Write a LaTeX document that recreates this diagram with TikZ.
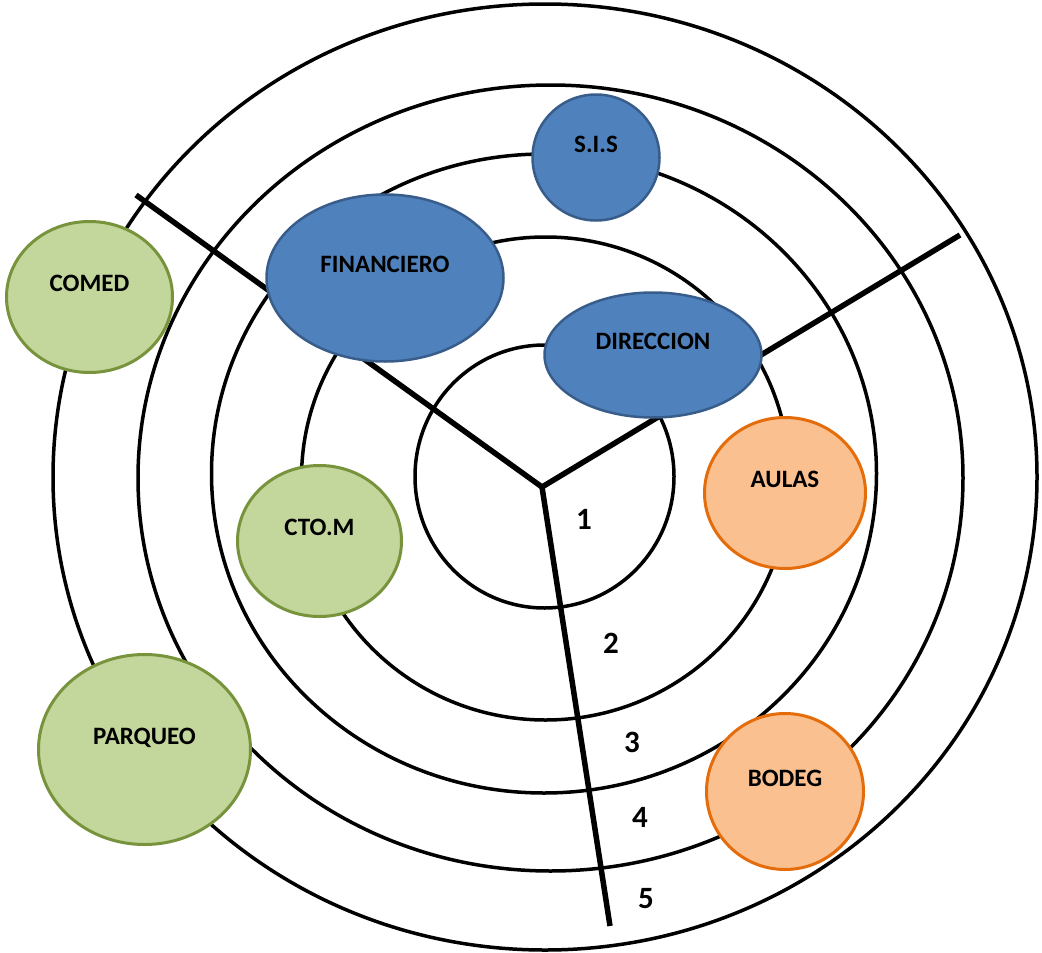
\documentclass[tikz,border=0pt]{standalone}
\usepackage{fontspec}
\setmainfont{Carlito}
\usetikzlibrary{shapes.geometric}
\definecolor{blueFill}{HTML}{4F81BD}
\definecolor{blueLine}{HTML}{385D8A}
\definecolor{greenFill}{HTML}{C3D69B}
\definecolor{greenLine}{HTML}{77933C}
\definecolor{orangeFill}{HTML}{FAC090}
\definecolor{orangeLine}{HTML}{E46C0A}
\begin{document}
\begin{tikzpicture}[x=1pt,y=-1pt,
  area/.style 2 args={ellipse, inner sep=0pt, outer sep=0pt,
    minimum width=#1, minimum height=#2},
  ring/.style={draw=black, line width=3.5pt},
  spoke/.style={draw=black, line width=5.5pt},
  bluearea/.style={fill=blueFill, draw=blueLine, line width=2.5pt},
  greenarea/.style={fill=greenFill, draw=greenLine, line width=3pt},
  orangearea/.style={fill=orangeFill, draw=orangeLine, line width=3pt},
  lbl/.style={font=\fontsize{25}{28}\selectfont\bfseries, anchor=base, inner sep=0pt},
  num/.style={font=\fontsize{31}{34}\selectfont\bfseries, anchor=base, inner sep=0pt}]

\fill[white] (0,0) rectangle (1042,953);
\useasboundingbox (0,0) rectangle (1042,953);

% concentric zones
\node[ring, area={259pt}{263pt}] (r1) at (544.5,476.5) {};
\node[ring, area={488pt}{483pt}] (r2) at (545.5,478.5) {};
\node[ring, area={665pt}{639pt}] (r3) at (544,473.5) {};
\node[ring, area={825pt}{786pt}] (r4) at (550.5,478) {};
\node[ring, area={984pt}{946pt}] (r5) at (545,477) {};

% sector dividers
\coordinate (hub) at (542,487);
\coordinate (endA) at (136,195);
\coordinate (endB) at (960,235);
\coordinate (endC) at (610,926);
\draw[spoke, line join=miter] (endA) -- (hub) -- (endB);
\draw[spoke] (hub) -- (endC);

% areas
\node[bluearea, area={127pt}{126pt}] (sis) at (596,157.5) {};
\node[bluearea, area={237pt}{167pt}] (fin) at (385,278) {};
\node[bluearea, area={217pt}{125pt}] (dir) at (653,355) {};
\node[orangearea, area={161pt}{151pt}] (aul) at (785,493) {};
\node[orangearea, area={157pt}{156pt}] (bod) at (785,791.5) {};
\node[greenarea, area={164pt}{151pt}] (cto) at (319.5,541) {};
\node[greenarea, area={166pt}{151pt}] (com) at (89.5,297) {};
\node[greenarea, area={212pt}{190pt}] (par) at (144.5,749.5) {};

% area names
\node[lbl] (tsis) at ([yshift=5.5pt]sis.center) {S.I.S};
\node[lbl] (tfin) at ([yshift=5.5pt]fin.center) {FINANCIERO};
\node[lbl] (tdir) at ([yshift=5.5pt]dir.center) {DIRECCION};
\node[lbl] (taul) at ([yshift=5.5pt]aul.center) {AULAS};
\node[lbl] (tbod) at ([yshift=5.5pt]bod.center) {BODEG};
\node[lbl] (tcto) at ([yshift=5.5pt]cto.center) {CTO.M};
\node[lbl] (tcom) at ([yshift=5.5pt]com.center) {COMED};
\node[lbl] (tpar) at ([yshift=5.5pt]par.center) {PARQUEO};

% zone numbers
\node[num] (n1) at (584,529) {1};
\node[num] (n2) at (611,653) {2};
\node[num] (n3) at (632,752) {3};
\node[num] (n4) at (640,827) {4};
\node[num] (n5) at (646,908) {5};
\end{tikzpicture}
\end{document}
